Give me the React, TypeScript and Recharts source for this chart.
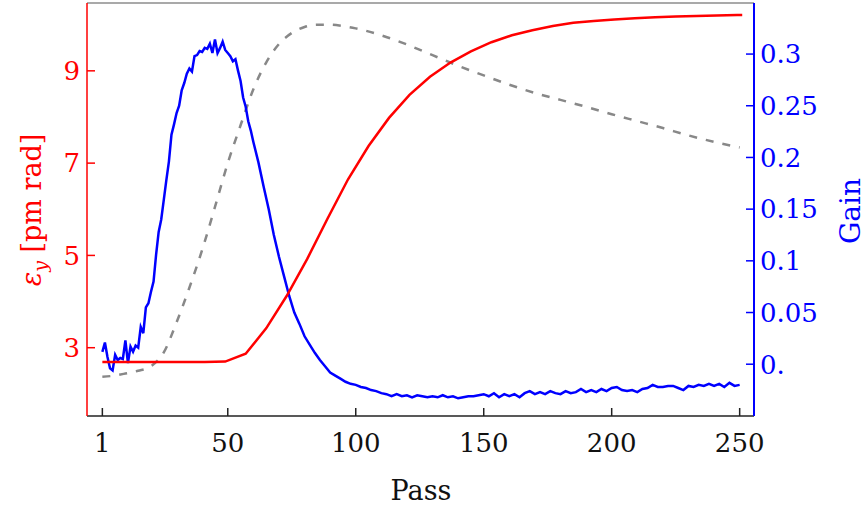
import { LineChart, Line, XAxis, YAxis, Label, ReferenceLine } from 'recharts';

// vertical emittance (left axis), sampled every 8 passes
const emitPasses = [1, 9, 17, 25, 33, 41, 49, 57, 65, 73, 81, 89, 97, 105, 113, 121, 129, 137, 145, 153, 161, 169, 177, 185, 193, 201, 209, 217, 225, 233, 241, 249, 251];
const emitValues = [2.69, 2.69, 2.69, 2.69, 2.69, 2.69, 2.7, 2.87, 3.42, 4.12, 4.92, 5.8, 6.65, 7.37, 7.98, 8.48, 8.87, 9.18, 9.42, 9.62, 9.77, 9.88, 9.97, 10.04, 10.08, 10.11, 10.14, 10.16, 10.18, 10.19, 10.2, 10.21, 10.21];

// grey dashed reference curve (drawn against left axis)
const refPasses = [1, 5, 10, 15, 20, 25, 30, 35, 40, 45, 50, 55, 60, 65, 70, 75, 80, 85, 90, 95, 100, 110, 120, 130, 140, 150, 160, 170, 180, 190, 200, 210, 220, 230, 240, 250];
const refValues = [2.37, 2.39, 2.44, 2.5, 2.6, 2.9, 3.55, 4.3, 5.12, 6.05, 7.0, 7.82, 8.6, 9.18, 9.58, 9.82, 9.95, 10.0, 10.0, 9.97, 9.92, 9.77, 9.57, 9.34, 9.11, 8.9, 8.7, 8.52, 8.37, 8.22, 8.06, 7.91, 7.76, 7.6, 7.46, 7.34];

// gain (right axis)
const gainPasses = [
  1, 2, 3, 4, 5, 6, 7, 8, 9, 10, 11, 12, 13, 14, 15, 16, 17, 18, 19, 20,
  21, 22, 23, 24, 25, 26, 27, 28, 29, 30, 31, 32, 33, 34, 35, 36, 37, 38, 39, 40,
  41, 42, 43, 44, 45, 46, 47, 48, 49, 50, 51, 52, 53, 54, 55, 56, 57, 58, 59, 60,
  62, 64, 66, 68, 70, 72, 74, 76, 78, 80, 82, 84, 86, 88, 90, 92, 94, 96, 98, 100,
  102, 104, 106, 108, 110, 112, 114, 116, 118, 120, 122, 124, 126, 128, 130, 132, 134, 136, 138, 140,
  142, 144, 146, 148, 150, 152, 154, 156, 158, 160, 162, 164, 166, 168, 170, 172, 174, 176, 178, 180,
  182, 184, 186, 188, 190, 192, 194, 196, 198, 200, 202, 204, 206, 208, 210, 212, 214, 216, 218, 220,
  222, 224, 226, 228, 230, 232, 234, 236, 238, 240, 242, 244, 246, 248, 250,
];
const gainValues = [
  0.012, 0.021, 0.007, -0.004, -0.006, 0.009, 0.004, 0.006, 0.005, 0.023, 0.001, 0.017, 0.012, 0.018, 0.016, 0.036, 0.03, 0.055, 0.059, 0.07,
  0.08, 0.106, 0.128, 0.14, 0.159, 0.178, 0.196, 0.222, 0.232, 0.243, 0.25, 0.265, 0.272, 0.281, 0.286, 0.283, 0.298, 0.299, 0.303, 0.302,
  0.306, 0.305, 0.31, 0.301, 0.314, 0.301, 0.306, 0.312, 0.304, 0.301, 0.298, 0.293, 0.295, 0.284, 0.274, 0.258, 0.249, 0.235, 0.226, 0.215,
  0.195, 0.172, 0.15, 0.125, 0.104, 0.085, 0.066, 0.05, 0.039, 0.027, 0.019, 0.011, 0.004, -0.002, -0.008, -0.011, -0.014, -0.017, -0.019, -0.02,
  -0.022, -0.023, -0.025, -0.026, -0.028, -0.029, -0.031, -0.029, -0.031, -0.03, -0.032, -0.03, -0.031, -0.032, -0.031, -0.032, -0.03, -0.032, -0.031, -0.033,
  -0.032, -0.031, -0.031, -0.03, -0.029, -0.031, -0.028, -0.032, -0.029, -0.031, -0.029, -0.032, -0.028, -0.026, -0.029, -0.027, -0.029, -0.026, -0.028, -0.029,
  -0.026, -0.028, -0.027, -0.024, -0.027, -0.025, -0.027, -0.024, -0.026, -0.023, -0.022, -0.025, -0.026, -0.025, -0.027, -0.024, -0.023, -0.02, -0.022, -0.022,
  -0.021, -0.021, -0.023, -0.025, -0.021, -0.022, -0.02, -0.021, -0.019, -0.021, -0.019, -0.022, -0.018, -0.021, -0.02,
];

const passTicks = [1, 50, 100, 150, 200, 250];
const emitTicks = [3, 5, 7, 9];
const gainTicks = [0, 0.05, 0.1, 0.15, 0.2, 0.25, 0.3];
const gainTickLabels = ['0.', '0.05', '0.1', '0.15', '0.2', '0.25', '0.3'];

const emitData = emitPasses.map((p, i) => ({ pass: p, emit: emitValues[i] }));
const refData = refPasses.map((p, i) => ({ pass: p, ref: refValues[i] }));
const gainData = gainPasses.map((p, i) => ({ pass: p, gain: gainValues[i] }));

const FONT = '"DejaVu Serif", serif';
const RED = '#ff0000';
const BLUE = '#0000ff';
const EMIT_DOMAIN = [1.52, 10.47];

const LeftTick = (props: any) => {
  const { x, y, payload } = props;
  return (
    <g>
      <line x1={x} x2={x + 8} y1={y} y2={y} stroke={RED} strokeWidth={1.5} />
      <text x={x - 7} y={y} dy="0.36em" textAnchor="end" fill={RED} fontSize={26} fontFamily={FONT}>
        {payload.value}
      </text>
    </g>
  );
};

const RightTick = (props: any) => {
  const { x, y, index } = props;
  return (
    <g>
      <line x1={x - 8} x2={x} y1={y} y2={y} stroke={BLUE} strokeWidth={1.5} />
      <text x={x + 6} y={y} dy="0.36em" textAnchor="start" fill={BLUE} fontSize={26} fontFamily={FONT}>
        {gainTickLabels[index]}
      </text>
    </g>
  );
};

const BottomTick = (props: any) => {
  const { x, y, payload } = props;
  return (
    <g>
      <line x1={x} x2={x} y1={y - 8} y2={y} stroke="#222" strokeWidth={1.5} />
      <text x={x} y={y + 36} textAnchor="middle" fill="#111" fontSize={26} fontFamily={FONT}>
        {payload.value}
      </text>
    </g>
  );
};

export default function App() {
  return (
    <div style={{ position: 'absolute', left: 0, top: 0, background: '#fff' }}>
      <LineChart width={867} height={508} margin={{ top: 3, right: 0, bottom: 0, left: 0 }}>
        <XAxis
          xAxisId="b"
          type="number"
          dataKey="pass"
          domain={[-5, 255.6]}
          allowDataOverflow
          ticks={passTicks}
          height={92}
          tickSize={0}
          tickMargin={0}
          tickLine={false}
          tick={<BottomTick />}
          stroke="#222"
          strokeWidth={1.5}
        >
          <Label
            content={() => (
              <text x={421} y={500} textAnchor="middle" fill="#111" fontSize={27} fontFamily={FONT}>
                Pass
              </text>
            )}
          />
        </XAxis>
        <YAxis
          yAxisId="left"
          orientation="left"
          type="number"
          domain={EMIT_DOMAIN}
          allowDataOverflow
          ticks={emitTicks}
          width={87}
          tickSize={0}
          tickMargin={0}
          tickLine={false}
          tick={<LeftTick />}
          stroke={RED}
          strokeWidth={1.5}
        >
          <Label
            content={() => (
              <text
                x={41}
                y={210}
                textAnchor="middle"
                fill={RED}
                fontSize={27}
                fontFamily={FONT}
                transform="rotate(-90, 41, 210)"
              >
                <tspan fontStyle="italic">ε</tspan>
                <tspan fontStyle="italic" fontSize={19} dy={6}>y</tspan>
                <tspan dy={-6}> [pm rad]</tspan>
              </text>
            )}
          />
        </YAxis>
        <YAxis
          yAxisId="right"
          orientation="right"
          type="number"
          domain={[-0.0501, 0.3494]}
          allowDataOverflow
          ticks={gainTicks}
          width={113}
          tickSize={0}
          tickMargin={0}
          tickLine={false}
          tick={<RightTick />}
          stroke={BLUE}
          strokeWidth={2}
        >
          <Label
            content={() => (
              <text
                x={860}
                y={211}
                textAnchor="middle"
                fill={BLUE}
                fontSize={28}
                fontFamily={FONT}
                transform="rotate(-90, 860, 211)"
              >
                Gain
              </text>
            )}
          />
        </YAxis>
        {/* top frame edge */}
        <ReferenceLine xAxisId="b" yAxisId="left" y={EMIT_DOMAIN[1]} stroke="#8c8c8c" strokeWidth={1.5} />
        <Line
          xAxisId="b"
          yAxisId="left"
          data={refData}
          dataKey="ref"
          type="monotone"
          stroke="#888888"
          strokeWidth={2.5}
          strokeDasharray="8 9"
          dot={false}
          isAnimationActive={false}
        />
        <Line
          xAxisId="b"
          yAxisId="right"
          data={gainData}
          dataKey="gain"
          type="linear"
          stroke={BLUE}
          strokeWidth={2.5}
          dot={false}
          isAnimationActive={false}
        />
        <Line
          xAxisId="b"
          yAxisId="left"
          data={emitData}
          dataKey="emit"
          type="linear"
          stroke={RED}
          strokeWidth={2.5}
          dot={false}
          isAnimationActive={false}
        />
      </LineChart>
    </div>
  );
}
